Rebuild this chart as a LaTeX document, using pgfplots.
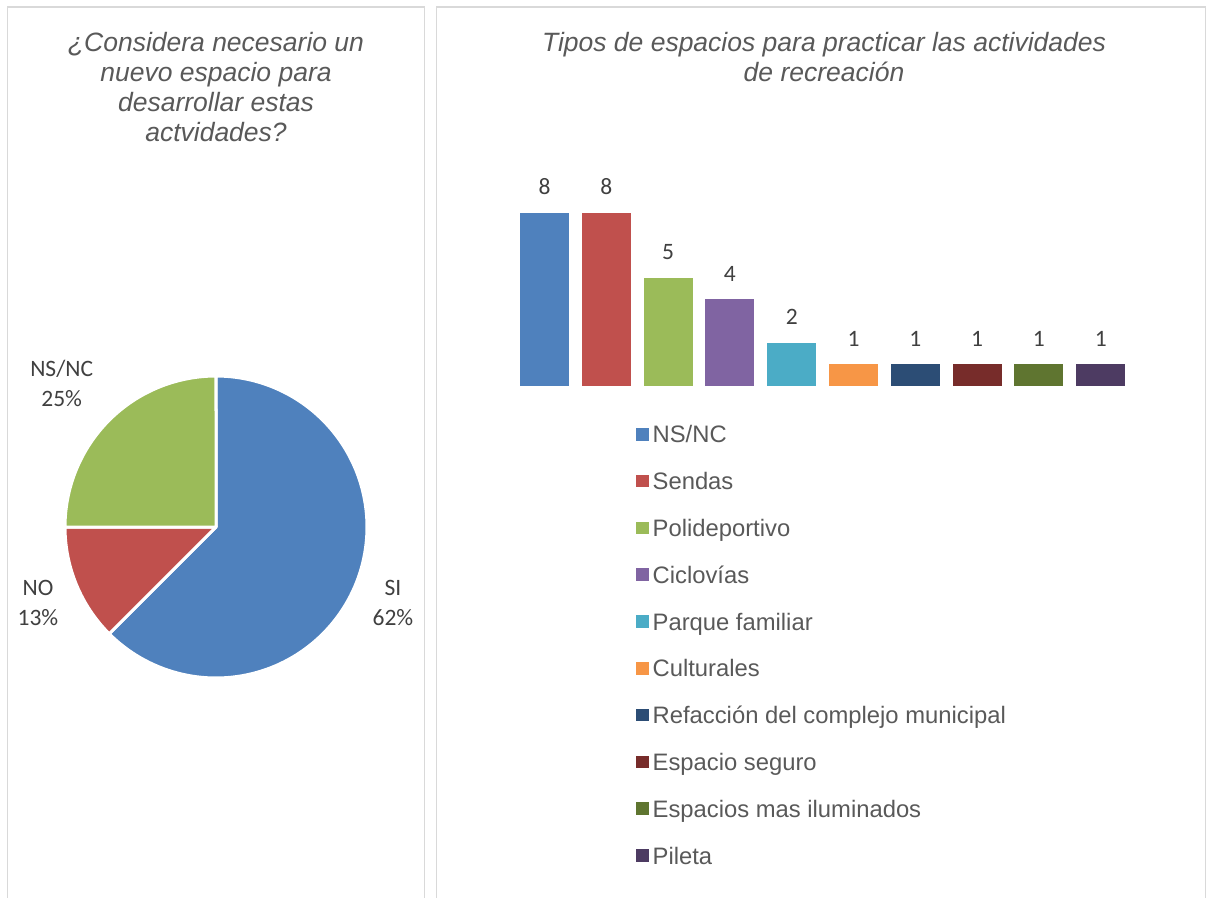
\documentclass[border=0pt]{standalone}
\usepackage{pgfplots}
\pgfplotsset{compat=1.18}
\usepackage{pgfplotstable}
\usepackage{fontspec}
\setmainfont{Liberation Sans}
\newfontfamily\calibri{Carlito}
\definecolor{c1}{HTML}{4F81BD}
\definecolor{c2}{HTML}{C0504D}
\definecolor{c3}{HTML}{9BBB59}
\definecolor{c4}{HTML}{8064A2}
\definecolor{c5}{HTML}{4BACC6}
\definecolor{c6}{HTML}{F79646}
\definecolor{c7}{HTML}{2C4D75}
\definecolor{c8}{HTML}{772C2A}
\definecolor{c9}{HTML}{5F7530}
\definecolor{c10}{HTML}{4D3B62}
\definecolor{txt}{HTML}{595959}
\definecolor{lbl}{HTML}{404040}
\definecolor{frame}{HTML}{D9D9D9}

% pie data (percent)
\pgfplotstableread{
label pct
SI 62.5
NO 12.5
NSNC 25
}\pietable
\pgfplotstablegetelem{0}{pct}\of\pietable \let\pSI\pgfplotsretval
\pgfplotstablegetelem{1}{pct}\of\pietable \let\pNO\pgfplotsretval
\pgfplotstablegetelem{2}{pct}\of\pietable \let\pNS\pgfplotsretval
\pgfmathsetmacro\aA{90-3.6*\pSI}
\pgfmathsetmacro\aB{\aA-3.6*\pNO}
\pgfmathsetmacro\aC{\aB-3.6*\pNS}

\begin{document}
\begin{tikzpicture}
\useasboundingbox (0,0) rectangle (1207pt,-897pt);
% panel frames
\draw[frame, line width=1.5pt] (7.5pt,-900pt) -- (7.5pt,-7pt) -- (424.5pt,-7pt) -- (424.5pt,-900pt);
\draw[frame, line width=1.5pt] (436.5pt,-900pt) -- (436.5pt,-7pt) -- (1205.5pt,-7pt) -- (1205.5pt,-900pt);

% titles
\begin{scope}[every node/.style={anchor=base, inner sep=0pt, text=txt, font=\itshape\fontsize{26.5}{30}\selectfont}]
\node at (216pt,-51.5pt) {¿Considera necesario un};
\node at (216pt,-81.5pt) {nuevo espacio para};
\node at (216pt,-111.5pt) {desarrollar estas};
\node at (216pt,-141.5pt) {actvidades?};
\node at (824pt,-51.5pt) {Tipos de espacios para practicar las actividades};
\node at (824pt,-81.5pt) {de recreación};
\end{scope}

% pie chart
\begin{axis}[at={(216pt,-527pt)}, anchor=center, scale only axis,
  width=302pt, height=302pt, xmin=-1, xmax=1, ymin=-1, ymax=1,
  hide axis, clip=false]
\addplot[fill=c1, draw=white, line width=3pt, line join=round, domain=90:\aA, samples=120, variable=\t]
  ({cos(\t)},{sin(\t)}) -- (axis cs:0,0) -- cycle;
\addplot[fill=c2, draw=white, line width=3pt, line join=round, domain=\aA:\aB, samples=40, variable=\t]
  ({cos(\t)},{sin(\t)}) -- (axis cs:0,0) -- cycle;
\addplot[fill=c3, draw=white, line width=3pt, line join=round, domain=\aB:\aC, samples=60, variable=\t]
  ({cos(\t)},{sin(\t)}) -- (axis cs:0,0) -- cycle;
\begin{scope}[every node/.style={align=center, text=lbl, inner sep=0pt, font=\calibri\fontsize{23.5}{30}\selectfont}]
\node at (axis cs:-1.022,0.954) {NS/NC\\25\%};
\node at (axis cs:-1.179,-0.503) {NO\\13\%};
\node at (axis cs:1.172,-0.503) {SI\\62\%};
\end{scope}
\end{axis}

% bar chart
\begin{axis}[at={(513.6pt,-386pt)}, anchor=south west, scale only axis,
  width=618pt, height=173.3pt, xmin=-0.5, xmax=9.5, ymin=0, ymax=8,
  hide axis, clip=false,
  ybar, bar width=49pt, bar shift=0pt,
  /pgf/number format/assume math mode=true,
  nodes near coords,
  every node near coord/.append style={font=\calibri\fontsize{23.5}{28}\selectfont, text=lbl, anchor=base, yshift=18pt, inner sep=0pt},
  legend image code/.code={\fill[#1] (0pt,-4pt) rectangle (12.5pt,8.5pt);},
  legend style={at={(axis description cs:0.198,-0.2256)}, anchor=north west,
    draw=none, fill=none, inner sep=0pt, row sep=24.3pt, column sep=4pt,
    font=\fontsize{23.8}{28}\selectfont, text=txt,
    nodes={inner sep=0pt, text height=17.5pt, text depth=5pt}},
  legend cell align=left]
\addplot[fill=c1, draw=none] coordinates {(0,8)};
\addlegendentry{NS/NC}
\addplot[fill=c2, draw=none] coordinates {(1,8)};
\addlegendentry{Sendas}
\addplot[fill=c3, draw=none] coordinates {(2,5)};
\addlegendentry{Polideportivo}
\addplot[fill=c4, draw=none] coordinates {(3,4)};
\addlegendentry{Ciclovías}
\addplot[fill=c5, draw=none] coordinates {(4,2)};
\addlegendentry{Parque familiar}
\addplot[fill=c6, draw=none] coordinates {(5,1)};
\addlegendentry{Culturales}
\addplot[fill=c7, draw=none] coordinates {(6,1)};
\addlegendentry{Refacción del complejo municipal}
\addplot[fill=c8, draw=none] coordinates {(7,1)};
\addlegendentry{Espacio seguro}
\addplot[fill=c9, draw=none] coordinates {(8,1)};
\addlegendentry{Espacios mas iluminados}
\addplot[fill=c10, draw=none] coordinates {(9,1)};
\addlegendentry{Pileta}
\end{axis}
\end{tikzpicture}
\end{document}
